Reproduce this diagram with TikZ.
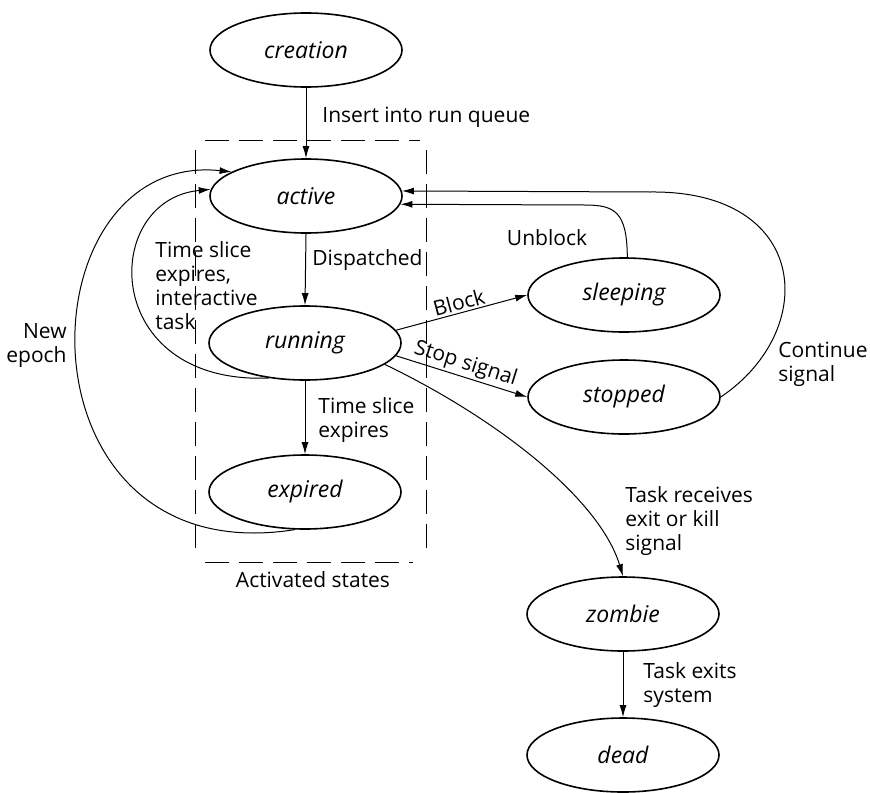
\documentclass[tikz,border=0pt]{standalone}
\usepackage{fontspec}
\setmainfont{Open Sans}
\usetikzlibrary{shapes.geometric,arrows.meta}
\begin{document}
\begin{tikzpicture}[x=0.5pt,y=-0.5pt,
  state/.style={ellipse,draw,line width=0.8pt,minimum width=96pt,minimum height=37pt,inner sep=0pt,font=\itshape\fontsize{11.5}{12}\selectfont},
  arr/.style={-{Latex[length=6pt,width=3.5pt]},line width=0.5pt},
  lbl/.style={font=\fontsize{10.5}{12}\selectfont,inner sep=0pt,align=left},
  boxline/.style={dash pattern=on 12pt off 5pt,line width=0.5pt}]
\useasboundingbox (0,0) rectangle (870,792);
% states
\node[state] (creation) at (306,50) {creation};
\node[state] (active) at (306,196) {active};
\node[state] (running) at (305,343) {running};
\node[state] (expired) at (305,492) {expired};
\node[state] (sleeping) at (624,295) {sleeping};
\node[state] (stopped) at (624,397) {stopped};
\node[state] (zombie) at (623,614) {zombie};
\node[state] (dead) at (623,755) {dead};
% activated states box
\draw[boxline] (205,140) -- (420,140);
\draw[boxline] (195,150) -- (195,555);
\draw[boxline] (426,150) -- (426,555);
\draw[boxline] (205,562) -- (413,562);
% connectors
\draw[arr] (creation.south) -- (active.north);
\draw[arr] (active.south) -- (running.north);
\draw[arr] (running.south) -- (expired.north);
\draw[arr] (zombie.south) -- (dead.north);
\draw[arr] (running.224) .. controls (100,385) and (100,200) .. (active.176);
\draw[arr] (expired.255) .. controls (10,575) and (20,150) .. (active.162);
\draw[arr] (running.8) -- node[midway,sloped,above=1pt,lbl] (lblock) {Block} (sleeping.west);
\draw[arr] (running.-8) -- node[midway,sloped,above=1pt,lbl] (lstop) {Stop signal} (stopped.west);
\draw[arr] (sleeping.85) .. controls (627,212) and (615,205) .. (585,205) -- (active.-5);
\draw[arr] (stopped.east) .. controls (820,330) and (810,190) .. (650,192) -- (active.3);
\draw[arr] (running.-15) .. controls (500,420) and (600,500) .. (zombie.north);
% labels
\node[lbl,anchor=base west] (linsert) at (322,122) {Insert into run queue};
\node[lbl,anchor=base west] (ldisp) at (312,265) {Dispatched};
\node[lbl,anchor=base west] (linter) at (155,329) {Time slice\\expires,\\interactive\\task};
\node[lbl,anchor=base east,align=right] (lepoch) at (67,362) {New\\epoch};
\node[lbl,anchor=base west] (lexp) at (318,437) {Time slice\\expires};
\node[lbl,anchor=base] (lact) at (313,587) {Activated states};
\node[lbl,anchor=base] (lunb) at (547,245) {Unblock};
\node[lbl,anchor=base west] (lcont) at (778,381) {Continue\\signal};
\node[lbl,anchor=base west] (lkill) at (625,550) {Task receives\\exit or kill\\signal};
\node[lbl,anchor=base west] (lexit) at (643,702) {Task exits\\system};
\end{tikzpicture}
\end{document}
